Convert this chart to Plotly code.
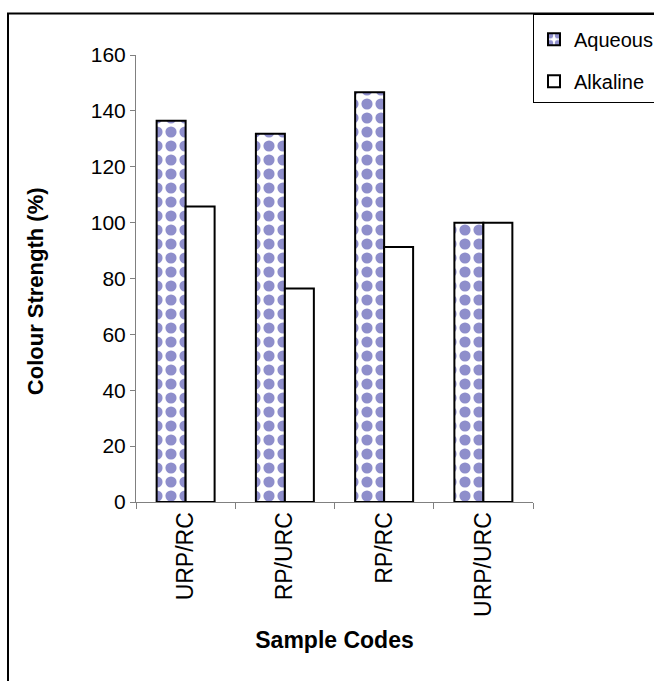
import plotly.graph_objects as go

# Sample codes and colour strength (%) for each extraction medium
categories = ["URP/RC", "RP/URC", "RP/RC", "URP/URC"]
aqueous = [136.5, 131.8, 146.7, 100.0]
alkaline = [105.8, 76.4, 91.3, 100.0]
y_ticks = [0, 20, 40, 60, 80, 100, 120, 140, 160]

FONT = "Liberation Sans, Arial, sans-serif"

fig = go.Figure()
fig.add_trace(go.Bar(
    x=categories, y=aqueous, name="Aqueous", legendgroup="a",
    marker=dict(
        color="white",
        line=dict(color="black", width=2),
        pattern=dict(shape=".", fgcolor="#8e8ecb", bgcolor="white",
                     fgopacity=1, size=14, solidity=0.5, fillmode="overlay"),
    ),
))
fig.add_trace(go.Bar(
    x=categories, y=alkaline, name="Alkaline", legendgroup="b",
    marker=dict(color="white", line=dict(color="black", width=2)),
))

fig.update_layout(
    width=654, height=681,
    margin=dict(l=136, r=121, t=54.5, b=178.5, autoexpand=False),
    paper_bgcolor="white", plot_bgcolor="white",
    barmode="group", bargap=0.416, bargroupgap=0,
    font=dict(family=FONT, size=20, color="black"),
    showlegend=True,
    legend=dict(
        x=1.0, y=1.0926, xanchor="left", yanchor="top",
        bgcolor="white", bordercolor="black", borderwidth=1,
        font=dict(family=FONT, size=20, color="black"),
        title=dict(text=" ", font=dict(size=4)),
        traceorder="grouped", tracegroupgap=13,
        itemwidth=30,
    ),
    shapes=[dict(
        type="rect", xref="paper", yref="paper",
        x0=-0.3224, x1=1.6, y0=-1.0, y1=1.0926,
        line=dict(color="black", width=2), fillcolor="rgba(0,0,0,0)",
        layer="below",
    )],
    annotations=[dict(
        text="<b>Colour Strength (%)</b>", textangle=-90,
        xref="paper", yref="paper", x=-0.254, y=0.472,
        xanchor="center", yanchor="middle", showarrow=False,
        font=dict(family=FONT, size=22, color="black"),
    )],
)

fig.update_yaxes(
    range=[0, 160], tickvals=y_ticks,
    showgrid=False, zeroline=False,
    showline=True, linecolor="#808080", linewidth=1,
    ticks="outside", ticklen=5, tickcolor="#808080",
    tickfont=dict(family=FONT, size=21, color="black"),
)
fig.update_xaxes(
    type="category", showgrid=False,
    showline=True, linecolor="#808080", linewidth=1,
    ticks="outside", ticklen=6, tickcolor="#808080", tickson="boundaries",
    tickangle=-90,
    tickfont=dict(family=FONT, size=23, color="black"),
    title=dict(text="<b>Sample Codes</b>", standoff=15,
               font=dict(family=FONT, size=23, color="black")),
)

fig.write_html("out.html")
